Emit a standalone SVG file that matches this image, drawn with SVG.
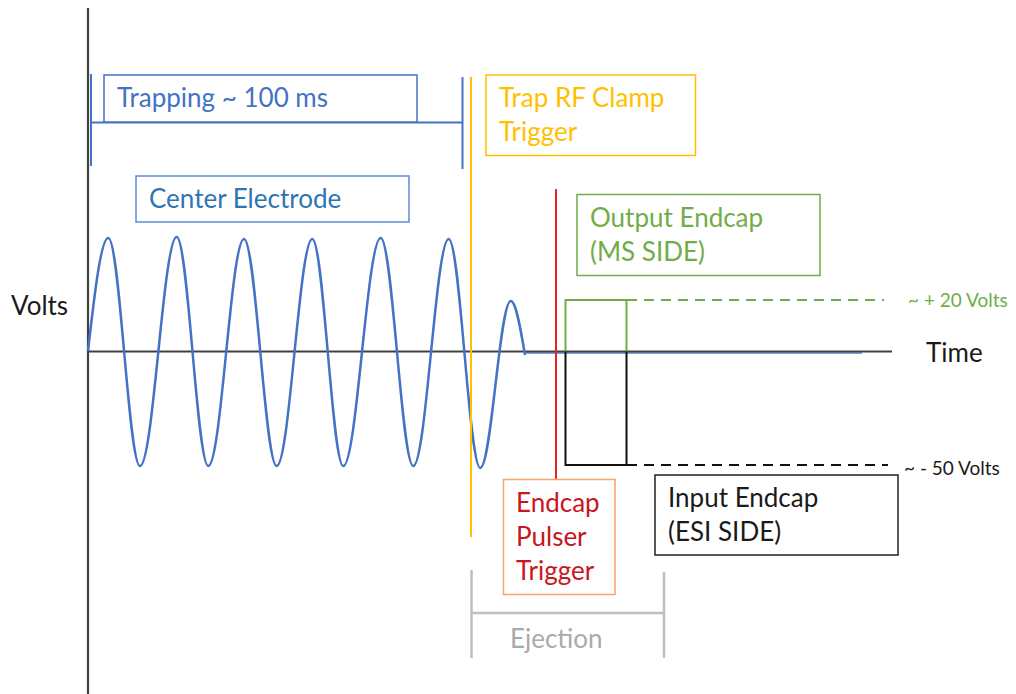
<svg xmlns="http://www.w3.org/2000/svg" width="1016" height="694" viewBox="0 0 1016 694">
<style>
text{font-family:Lato,"Liberation Sans",sans-serif;font-size:26px}
.small{font-size:19px}
.box{fill:#fff;stroke-width:1.5}
.blue{stroke:#4472C4}
</style>
<rect width="1016" height="694" fill="#fff"/>
<g id="connectors" fill="none">
  <!-- axes -->
  <line x1="88" y1="8" x2="88" y2="694" stroke="#404040" stroke-width="2.2"/>
  <line x1="525" y1="353" x2="862" y2="353" stroke="#7FA0D8" stroke-width="2"/>
  <line x1="88" y1="351.5" x2="892" y2="351.5" stroke="#404040" stroke-width="2"/>
  <!-- trapping bracket -->
  <g stroke="#4472C4" stroke-width="2">
    <line x1="91" y1="74" x2="91" y2="166"/>
    <line x1="91" y1="122.5" x2="462.5" y2="122.5"/>
    <line x1="462.5" y1="77" x2="462.5" y2="169"/>
  </g>
  <!-- sine -->
  <path d="M88,351 C94.6,293 101,238 108.3,238 C119.82,238 128.48,466 140,466 C153.34,466 163.36,237 176.7,237 C188.18,237 196.82,466 208.3,466 C221.27,466 231.03,239 244,239 C255.88,239 264.82,466 276.7,466 C289.64,466 299.36,239 312.3,239 C323.57,239 332.03,466 343.3,466 C356.89,466 367.11,238 380.7,238 C392.55,238 401.45,466 413.3,466 C426.16,466 435.84,239 448.7,239 C460.18,239 468.82,468 480.3,468 C491.35,468 499.65,301 510.7,301 C515.9,301 520.3,327 525,355" stroke="#4472C4" stroke-width="2.5"/>
  <!-- triggers -->
  <line x1="471" y1="77" x2="471" y2="537" stroke="#FFC000" stroke-width="2"/>
  <line x1="556" y1="189" x2="556" y2="479" stroke="#E0282A" stroke-width="2"/>
  <!-- output endcap pulse -->
  <polyline points="565.5,351.5 565.5,300 626.5,300 626.5,351.5" stroke="#70AD47" stroke-width="2"/>
  <line x1="627" y1="300" x2="884" y2="300" stroke="#70AD47" stroke-width="2" stroke-dasharray="10,7"/>
  <!-- input endcap pulse -->
  <polyline points="565.5,351.5 565.5,465 626.5,465 626.5,351.5" stroke="#111" stroke-width="2"/>
  <line x1="627" y1="465" x2="888" y2="465" stroke="#111" stroke-width="2" stroke-dasharray="10,7"/>
  <!-- ejection bracket -->
  <g stroke="#BFBFBF" stroke-width="2.5">
    <line x1="471.5" y1="570" x2="471.5" y2="658"/>
    <line x1="471.5" y1="613" x2="664" y2="613"/>
    <line x1="664" y1="572" x2="664" y2="658"/>
  </g>
</g>
<g id="volts-label"><text x="11" y="315" fill="#1a1a1a">Volts</text></g>
<g id="time-label"><text x="926" y="362" fill="#1a1a1a">Time</text></g>
<g id="trapping">
  <rect class="box blue" x="104" y="75" width="313" height="47" fill="none"/>
  <text x="117" y="107" fill="#4472C4">Trapping ~ 100 ms</text>
</g>
<g id="center-electrode">
  <rect class="box" x="136" y="176" width="273" height="46" stroke="#5B8BD6"/>
  <text x="149" y="208" fill="#2E75B6">Center Electrode</text>
</g>
<g id="trap-rf-clamp">
  <rect class="box" x="486" y="75" width="209.5" height="80.5" stroke="#FFC000"/>
  <text x="499" y="107" fill="#FFC000">Trap RF Clamp</text>
  <text x="499" y="141" fill="#FFC000">Trigger</text>
</g>
<g id="output-endcap">
  <rect class="box" x="577" y="194.5" width="243" height="81" stroke="#70AD47"/>
  <text x="590" y="227" fill="#70AD47">Output Endcap</text>
  <text x="590" y="261" fill="#70AD47">(MS SIDE)</text>
</g>
<g id="plus20"><text class="small" x="908" y="307" fill="#70AD47">~ + 20 Volts</text></g>
<g id="minus50"><text class="small" x="904" y="475" fill="#1a1a1a">~ - 50 Volts</text></g>
<g id="input-endcap">
  <rect class="box" x="655" y="475" width="243" height="80" stroke="#222"/>
  <text x="668" y="507" fill="#1a1a1a">Input Endcap</text>
  <text x="668" y="541" fill="#1a1a1a">(ESI SIDE)</text>
</g>
<g id="endcap-pulser">
  <rect class="box" x="503.5" y="479.5" width="111.5" height="115" stroke="#F6A26A"/>
  <text x="516" y="512" fill="#C8161E">Endcap</text>
  <text x="516" y="546" fill="#C8161E">Pulser</text>
  <text x="516" y="580" fill="#C8161E">Trigger</text>
</g>
<g id="ejection"><text x="510" y="648" fill="#AAAAAA">Ejection</text></g>
</svg>
